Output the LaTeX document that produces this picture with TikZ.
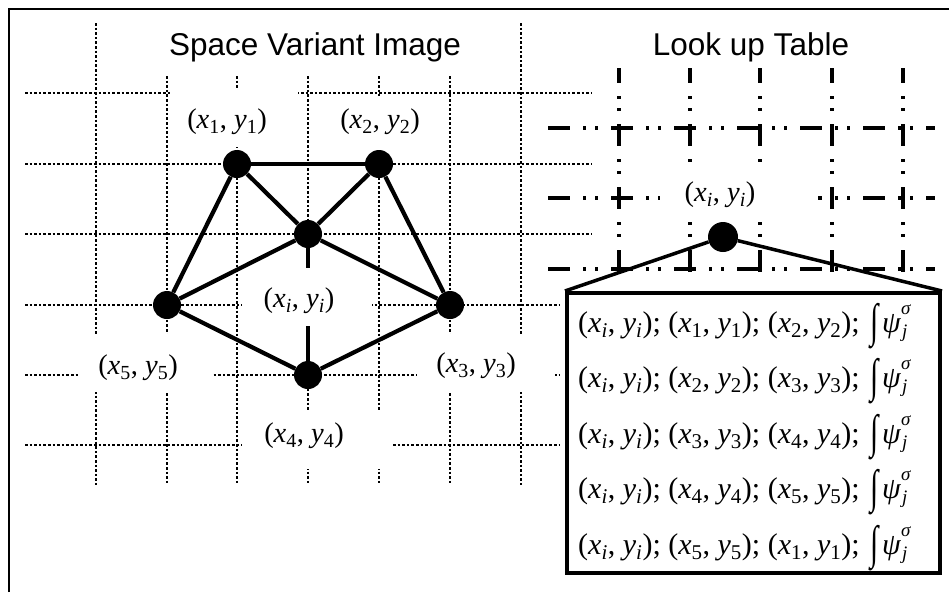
\documentclass[tikz,border=0pt]{standalone}
\usepackage{fontspec}
\setmainfont{Liberation Serif}
\newfontfamily\sansf{Liberation Sans}
\newcommand{\pp}[1]{(\textit{x}\textsubscript{#1}, \textit{y}\textsubscript{#1})}
\newcommand{\intpsi}{\hspace{0.1em}\raisebox{-0.14em}{\scalebox{1}[1.55]{∫}}\hspace{0.12em}\textit{ψ}\rlap{\raisebox{0.6em}{\fontsize{19}{20}\selectfont\textit{σ}}}{\fontsize{19}{20}\selectfont\raisebox{-0.3em}{\hspace{0.05em}\textit{j}}}}
\begin{document}
\begin{tikzpicture}[x=1pt,y=-1pt,
  gridline/.style={line width=2.6pt, dash pattern=on 2.6pt off 2pt},
  lutline/.style={line width=3.2pt, dash pattern=on 22pt off 13pt on 3pt off 9pt on 3pt off 13pt},
  maskbox/.style={fill=white, draw=none},
  edge/.style={line width=4.2pt},
  vtx/.style={circle, fill=black, inner sep=0pt, minimum size=28pt},
  lbl/.style={font=\fontsize{28.5}{31}\selectfont, inner sep=0pt},
  ttl/.style={font=\sansf\fontsize{31.5}{36}\selectfont, inner sep=0pt},
  tabrow/.style={font=\fontsize{30}{33}\selectfont, inner sep=0pt, anchor=west}]
\useasboundingbox (0,0) rectangle (949,592);
% frame
\draw[line width=2pt] (8.5,592) -- (8.5,8.5) -- (949,8.5);
% left grid
\foreach \x in {167,237,308,379,450} \draw[gridline] (\x,76) -- (\x,485);
\foreach \x in {96,521} \draw[gridline] (\x,23) -- (\x,485);
\foreach \y in {93,164,234} \draw[gridline] (25,\y) -- (592,\y);
\foreach \y in {305,375,445} \draw[gridline] (25,\y) -- (559,\y);
% right grid
\foreach \x in {619,690,760,832,903} \draw[lutline, dash phase=7pt] (\x,68) -- (\x,273);
\foreach \y in {128,198,269} \draw[lutline] (548,\y) -- (935,\y);
% masks
\fill[maskbox] (170,90) rectangle (298,147);
\fill[maskbox] (316,96) rectangle (445,150);
\fill[maskbox] (242,268) rectangle (372,326);
\fill[maskbox] (242,410) rectangle (393,469);
\fill[maskbox] (79,334) rectangle (213,392);
\fill[maskbox] (417,334) rectangle (555,392);
\fill[maskbox] (660,166) rectangle (818,218);
% titles
\node[ttl, anchor=base] (t1) at (315,55) {Space Variant Image};
\node[ttl, anchor=base] (t2) at (751,55) {Look up Table};
% graph
\node[vtx] (n1) at (237,164) {};
\node[vtx] (n2) at (379,164) {};
\node[vtx] (c) at (308,234) {};
\node[vtx] (n5) at (167,305) {};
\node[vtx] (n3) at (450,305) {};
\node[vtx] (n4) at (308,375) {};
\coordinate (cs) at (308,268);
\coordinate (c4s) at (308,326);
\draw[edge] (n1) -- (n2);
\draw[edge] (n1) -- (c);
\draw[edge] (n2) -- (c);
\draw[edge] (n1) -- (n5);
\draw[edge] (n2) -- (n3);
\draw[edge] (c) -- (n5);
\draw[edge] (c) -- (n3);
\draw[edge] (n5) -- (n4);
\draw[edge] (n3) -- (n4);
\draw[edge] (c) -- (cs);
\draw[edge] (n4) -- (c4s);
% labels
\node[lbl] (l1) at (227,122) {\pp{1}};
\node[lbl] (l2) at (380,122) {\pp{2}};
\node[lbl] (li) at (299,301) {\pp{\textit{i}}};
\node[lbl] (l5) at (138,368) {\pp{5}};
\node[lbl] (l3) at (476,366) {\pp{3}};
\node[lbl] (l4) at (304,436) {\pp{4}};
% look up table
\node[lbl] (lli) at (720,195) {\pp{\textit{i}}};
\node[vtx, minimum size=30pt] (L) at (723,237) {};
\node[draw, line width=4pt, fill=white, minimum width=373pt, minimum height=280pt, inner sep=0pt] (box) at (753.5,433) {};
\draw[line width=3.5pt] (L) -- (box.north west);
\draw[line width=3.5pt] (L) -- (box.north east);
\node[tabrow] (r1) at (578,326) {\pp{\textit{i}}; \pp{1}; \pp{2}; \intpsi};
\node[tabrow] (r2) at (578,381) {\pp{\textit{i}}; \pp{2}; \pp{3}; \intpsi};
\node[tabrow] (r3) at (578,437) {\pp{\textit{i}}; \pp{3}; \pp{4}; \intpsi};
\node[tabrow] (r4) at (578,492) {\pp{\textit{i}}; \pp{4}; \pp{5}; \intpsi};
\node[tabrow] (r5) at (578,548) {\pp{\textit{i}}; \pp{5}; \pp{1}; \intpsi};
\end{tikzpicture}
\end{document}
